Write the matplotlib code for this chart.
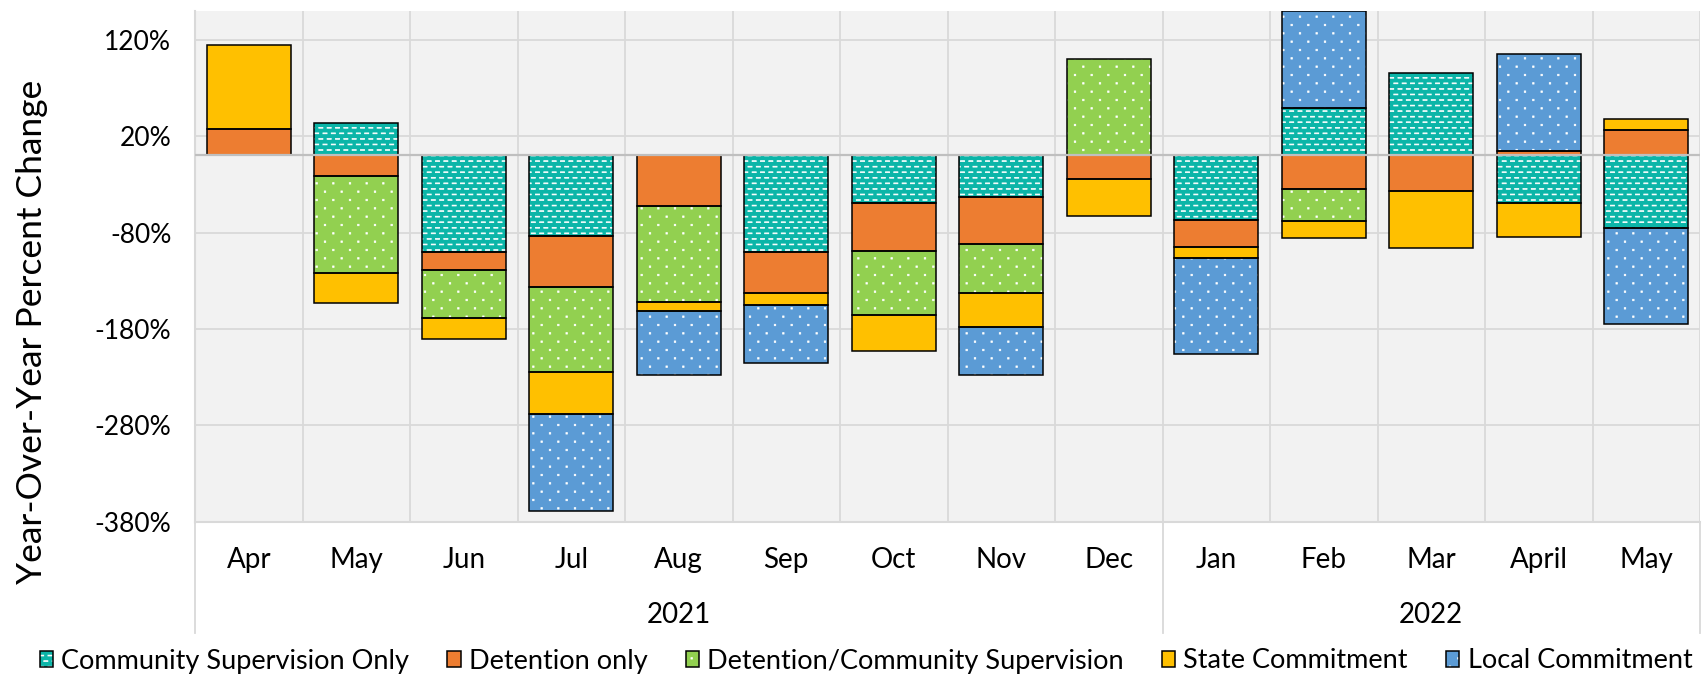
import matplotlib

matplotlib.use("Agg")

import matplotlib.hatch as mhatch
import matplotlib.pyplot as plt
import numpy as np
from matplotlib.patches import Patch
from matplotlib.path import Path

MONTHS = ["Apr", "May", "Jun", "Jul", "Aug", "Sep", "Oct", "Nov", "Dec",
          "Jan", "Feb", "Mar", "April", "May"]
YEAR_GROUPS = [("2021", 9), ("2022", 5)]

SERIES = [
    "Community Supervision Only",
    "Detention only",
    "Detention/Community Supervision",
    "State Commitment",
    "Local Commitment",
]

# year-over-year percent change per month
community_supervision = [0, 33.5, -100.4, -83.5, 0, -100.1, -49.8, -43.0, 0,
                         -66.9, 49.1, 85.8, -49.8, -75.5]
detention_only = [28.0, -21.8, -18.7, -52.9, -52.6, -42.6, -49.2, -49.4, -24.6,
                  -27.6, -34.7, -37.1, 4.5, 26.0]
detention_community = [0, -100.1, -49.9, -88.9, -99.7, 0, -67.1, -50.6, 100.0,
                       0, -33.5, 0, 0, 0]
state_commitment = [86.5, -31.2, -21.8, -43.0, -8.7, -12.4, -37.1, -34.6, -38.4,
                    -11.8, -17.4, -58.8, -35.0, 11.4]
local_commitment = [0, 0, 0, -100.8, -66.8, -60.3, 0, -50.2, 0,
                    -100.0, 100.5, 0, 101.0, -99.7]

Y_TICKS = [-380, -280, -180, -80, 20, 120]
Y_LIMITS = (-380, 150)

COLORS = ["#0bb5a8", "#ed7d31", "#92d050", "#ffc000", "#5b9bd5"]
HATCHES = ["o", None, "O", None, "O"]
GRID_COLOR = "#d9d9d9"
BAR_WIDTH = 0.78


class _StaggeredRects(mhatch.HatchPatternBase):
    """Small rectangles in staggered rows, close to Excel's pattern fills."""

    char = ""
    rows = 12
    cols = 6
    half_w = 0.01
    half_h = 0.01

    def __init__(self, hatch, density):
        active = self.char in hatch
        n_rects = (self.rows // 2 + 1) * (self.cols + 1) + (self.rows // 2) * self.cols
        self.num_vertices = 5 * n_rects if active else 0

    def set_vertices_and_codes(self, vertices, codes):
        w, h = self.half_w, self.half_h
        rect = np.array([[-w, -h], [w, -h], [w, h], [-w, h], [-w, -h]])
        step = 1.0 / self.cols
        parts = []
        for i in range(self.rows + 1):
            if i % 2 == 0:
                xs = np.linspace(0, 1, self.cols + 1)
            else:
                xs = np.linspace(step / 2, 1 - step / 2, self.cols)
            for xp in xs:
                parts.append(rect + [xp, i / self.rows])
        vertices[:] = np.concatenate(parts)
        codes[:] = np.tile([Path.MOVETO, Path.LINETO, Path.LINETO,
                            Path.LINETO, Path.CLOSEPOLY], len(parts))


class ConfettiHatch(_StaggeredRects):
    char = "o"
    rows = 18
    cols = 12
    half_w = 0.021
    half_h = 0.0045


class DotHatch(_StaggeredRects):
    char = "O"
    rows = 12
    cols = 6
    half_w = 0.0075
    half_h = 0.0075


# swap the circle hatches for the two Excel-like patterns
mhatch._hatch_types = [t for t in mhatch._hatch_types
                       if t not in (mhatch.SmallCircles, mhatch.LargeCircles)]
mhatch._hatch_types += [ConfettiHatch, DotHatch]

plt.rcParams["font.family"] = ["Lato", "DejaVu Sans"]
plt.rcParams["hatch.linewidth"] = 0.5

W, H = 1703, 676
fig = plt.figure(figsize=(W / 100, H / 100), dpi=100)
ax = fig.add_axes([195 / W, 1 - 521.5 / H, (1700 - 195) / W, (521.5 - 11) / H])
ax.set_facecolor("#f2f2f2")

x = np.arange(len(MONTHS))
values_by_series = [community_supervision, detention_only, detention_community,
                    state_commitment, local_commitment]

pos_base = np.zeros(len(x))
neg_base = np.zeros(len(x))
for values, color, hatch in zip(values_by_series, COLORS, HATCHES):
    v = np.asarray(values, dtype=float)
    base = np.where(v >= 0, pos_base, neg_base)
    keep = v != 0
    ax.bar(x[keep], v[keep], BAR_WIDTH, bottom=base[keep], color=color,
           hatch=hatch, edgecolor="white", linewidth=0, zorder=2)
    ax.bar(x[keep], v[keep], BAR_WIDTH, bottom=base[keep], fill=False,
           edgecolor="black", linewidth=1.1, zorder=3)
    pos_base += np.where(v > 0, v, 0)
    neg_base += np.where(v < 0, v, 0)

ax.axhline(0, color="#bfbfbf", linewidth=1.6, zorder=4)

ax.set_xlim(-0.5, len(x) - 0.5)
ax.set_ylim(*Y_LIMITS)
ax.set_yticks(Y_TICKS, [f"{t}%" for t in Y_TICKS])
ax.set_xticks(x, MONTHS)
for lbl in ax.get_xticklabels():
    lbl.set_va("center")
ax.tick_params(axis="x", length=0, pad=27.7, labelsize=20)
ax.tick_params(axis="y", length=0, pad=17, labelsize=19)

ax.set_axisbelow(True)
ax.grid(axis="y", color=GRID_COLOR, linewidth=1.3)
for b in np.arange(len(x) + 1) - 0.5:
    ax.axvline(b, color=GRID_COLOR, linewidth=1.3, zorder=0.5)

for side in ["top", "right"]:
    ax.spines[side].set_visible(False)
for side in ["left", "bottom"]:
    ax.spines[side].set_color(GRID_COLOR)
    ax.spines[side].set_linewidth(1.5)

# second level of the category axis: year labels and group separators
trans = ax.get_xaxis_transform()
sep_bottom = (521.5 - 633) / (521.5 - 11)
start = 0
ax.plot([start - 0.5, start - 0.5], [0, sep_bottom], color=GRID_COLOR,
        linewidth=1.3, transform=trans, clip_on=False)
for year, count in YEAR_GROUPS:
    end = start + count
    ax.text((start + end - 1) / 2, (521.5 - 614.6) / (521.5 - 11), year,
            transform=trans, ha="center", va="center", fontsize=20)
    ax.plot([end - 0.5, end - 0.5], [0, sep_bottom], color=GRID_COLOR,
            linewidth=1.3, transform=trans, clip_on=False)
    start = end

fig.text(32.5 / W, 1 - 332 / H, "Year-Over-Year Percent Change", rotation=90,
         ha="center", va="center", fontsize=25.5)

handles = [
    (Patch(facecolor=c, hatch=h, edgecolor="white", linewidth=0),
     Patch(fill=False, edgecolor="black", linewidth=1.1))
    for c, h in zip(COLORS, HATCHES)
]
fig.legend(handles, SERIES, loc="center", bbox_to_anchor=(866 / W, 1 - 661 / H),
           ncol=5, frameon=False, fontsize=19.5, handlelength=0.5,
           handleheight=0.5, handletextpad=0.3, columnspacing=1.4,
           borderaxespad=0, borderpad=0)

fig.savefig("out.png", dpi=100, facecolor="white")
